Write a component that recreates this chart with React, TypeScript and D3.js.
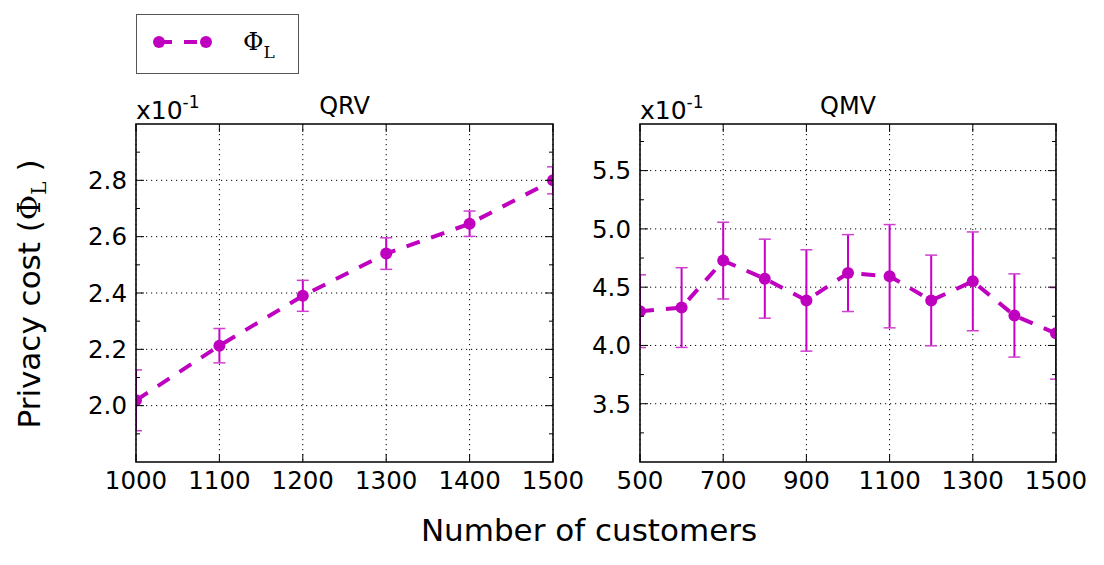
import React from "react";
import * as d3 from "d3";

// QRV panel: privacy cost (x10^-1) vs. number of customers
const qrvCustomers = [1000, 1100, 1200, 1300, 1400, 1500];
const qrvCost = [2.019, 2.213, 2.39, 2.54, 2.646, 2.8];
const qrvErr = [0.108, 0.061, 0.055, 0.056, 0.045, 0.048];
const qrvXTicks = [1000, 1100, 1200, 1300, 1400, 1500];
const qrvYTicks = [2.0, 2.2, 2.4, 2.6, 2.8];
const qrvYMinor = [1.9, 2.1, 2.3, 2.5, 2.7, 2.9];

// QMV panel
const qmvCustomers = [500, 600, 700, 800, 900, 1000, 1100, 1200, 1300, 1400, 1500];
const qmvCost = [4.294, 4.325, 4.728, 4.573, 4.386, 4.621, 4.594, 4.386, 4.55, 4.257, 4.104];
const qmvErr = [0.312, 0.342, 0.329, 0.339, 0.435, 0.33, 0.443, 0.389, 0.424, 0.357, 0.393];
const qmvXTicks = [500, 700, 900, 1100, 1300, 1500];
const qmvYTicks = [3.5, 4.0, 4.5, 5.0, 5.5];
const qmvYMinor = [3.25, 3.75, 4.25, 4.75, 5.25, 5.75];

const MAGENTA = "#bf00bf";
const SANS = "'DejaVu Sans', sans-serif";
const SERIF = "'DejaVu Serif', serif";

type PanelProps = {
  id: string;
  title: string;
  left: number;
  right: number;
  top: number;
  bottom: number;
  xDomain: [number, number];
  yDomain: [number, number];
  xs: number[];
  ys: number[];
  errs: number[];
  xTicks: number[];
  yTicks: number[];
  yMinor: number[];
};

function Panel(p: PanelProps) {
  const x = d3.scaleLinear().domain(p.xDomain).range([p.left, p.right]);
  const y = d3.scaleLinear().domain(p.yDomain).range([p.bottom, p.top]);
  const pts = p.xs.map((v, i) => [v, p.ys[i]] as [number, number]);
  const line = d3
    .line<[number, number]>()
    .x((d) => x(d[0]))
    .y((d) => y(d[1]));
  const clipId = `clip-${p.id}`;
  const major = 8;
  const minor = 4;
  return (
    <g>
      <defs>
        <clipPath id={clipId}>
          <rect x={p.left} y={p.top} width={p.right - p.left} height={p.bottom - p.top} />
        </clipPath>
      </defs>
      {/* dotted grid */}
      <g stroke="#000" strokeWidth={1} strokeDasharray="1.2,3.8">
        {p.xTicks.map((t) => (
          <line key={`gx${t}`} x1={x(t)} x2={x(t)} y1={p.top} y2={p.bottom} />
        ))}
        {p.yTicks.map((t) => (
          <line key={`gy${t}`} x1={p.left} x2={p.right} y1={y(t)} y2={y(t)} />
        ))}
      </g>
      <g clipPath={`url(#${clipId})`}>
        <path
          d={line(pts) || ""}
          fill="none"
          stroke={MAGENTA}
          strokeWidth={4}
          strokeDasharray="14,12"
        />
        <g stroke="#c800c8" strokeWidth={2}>
          {pts.map((d, i) => {
            const cx = x(d[0]);
            const yt = y(d[1] + p.errs[i]);
            const yb = y(d[1] - p.errs[i]);
            return (
              <g key={`e${i}`}>
                <line x1={cx} x2={cx} y1={yt} y2={yb} />
                <line x1={cx - 6} x2={cx + 6} y1={yt} y2={yt} strokeWidth={1.5} stroke="#d040d0" />
                <line x1={cx - 6} x2={cx + 6} y1={yb} y2={yb} strokeWidth={1.5} stroke="#d040d0" />
              </g>
            );
          })}
        </g>
        {pts.map((d, i) => (
          <circle key={`m${i}`} cx={x(d[0])} cy={y(d[1])} r={6} fill={MAGENTA} />
        ))}
      </g>
      {/* ticks on all four sides, pointing inward */}
      <g stroke="#000" strokeWidth={1}>
        {p.xTicks.map((t) => (
          <g key={`tx${t}`}>
            <line x1={x(t)} x2={x(t)} y1={p.bottom} y2={p.bottom - major} />
            <line x1={x(t)} x2={x(t)} y1={p.top} y2={p.top + major} />
          </g>
        ))}
        {p.yTicks.map((t) => (
          <g key={`ty${t}`}>
            <line x1={p.left} x2={p.left + major} y1={y(t)} y2={y(t)} />
            <line x1={p.right} x2={p.right - major} y1={y(t)} y2={y(t)} />
          </g>
        ))}
        {p.yMinor.map((t) => (
          <g key={`tm${t}`}>
            <line x1={p.left} x2={p.left + minor} y1={y(t)} y2={y(t)} />
            <line x1={p.right} x2={p.right - minor} y1={y(t)} y2={y(t)} />
          </g>
        ))}
      </g>
      <rect
        x={p.left}
        y={p.top}
        width={p.right - p.left}
        height={p.bottom - p.top}
        fill="none"
        stroke="#000"
        strokeWidth={1.5}
      />
      {/* tick labels */}
      <g fontFamily={SANS} fill="#000">
        {p.xTicks.map((t) => (
          <text key={`lx${t}`} x={x(t)} y={p.bottom + 27} textAnchor="middle" fontSize={24.5}>
            {t}
          </text>
        ))}
        {p.yTicks.map((t) => (
          <text key={`ly${t}`} x={p.left - 9} y={y(t)} dy="0.36em" textAnchor="end" fontSize={24.5}>
            {t.toFixed(1)}
          </text>
        ))}
      </g>
      {/* offset label and title */}
      <text x={p.left} y={p.top - 5} fontFamily={SANS} fontSize={25} fill="#000">
        x10
        <tspan fontSize={17} dy={-11}>
          -1
        </tspan>
      </text>
      <text
        x={(p.left + p.right) / 2}
        y={p.top - 10}
        textAnchor="middle"
        fontFamily={SANS}
        fontSize={24}
        fill="#000"
      >
        {p.title}
      </text>
    </g>
  );
}

export default function App() {
  const top = 124;
  const bottom = 462;
  return (
    <svg
      width={1104}
      height={565}
      style={{ position: "absolute", left: 0, top: 0, background: "#fff" }}
    >
      <rect x={0} y={0} width={1104} height={565} fill="#fff" />
      {/* legend */}
      <g>
        <rect x={136.5} y={14.5} width={162} height={59} fill="#fff" stroke="#555" strokeWidth={1} />
        <line x1={159} x2={206} y1={42} y2={42} stroke={MAGENTA} strokeWidth={4} strokeDasharray="13,12" />
        <circle cx={159} cy={42} r={6} fill={MAGENTA} />
        <circle cx={206} cy={42} r={6} fill={MAGENTA} />
        <text x={243} y={50} fontFamily={SERIF} fontSize={25} fill="#000">
          Φ
          <tspan fontSize={17} dy={8}>
            L
          </tspan>
        </text>
      </g>
      <Panel
        id="qrv"
        title="QRV"
        left={136}
        right={553}
        top={top}
        bottom={bottom}
        xDomain={[1000, 1500]}
        yDomain={[1.8, 3.0]}
        xs={qrvCustomers}
        ys={qrvCost}
        errs={qrvErr}
        xTicks={qrvXTicks}
        yTicks={qrvYTicks}
        yMinor={qrvYMinor}
      />
      <Panel
        id="qmv"
        title="QMV"
        left={640}
        right={1056}
        top={top}
        bottom={bottom}
        xDomain={[500, 1500]}
        yDomain={[3.0, 5.9]}
        xs={qmvCustomers}
        ys={qmvCost}
        errs={qmvErr}
        xTicks={qmvXTicks}
        yTicks={qmvYTicks}
        yMinor={qmvYMinor}
      />
      {/* axis titles */}
      <text
        x={589}
        y={541}
        textAnchor="middle"
        fontFamily={SANS}
        fontSize={31}
        fill="#000"
      >
        Number of customers
      </text>
      <text
        transform="translate(40,294) rotate(-90)"
        textAnchor="middle"
        fontFamily={SANS}
        fontSize={31}
        fill="#000"
      >
        Privacy cost (
        <tspan fontFamily={SERIF}>Φ</tspan>
        <tspan fontFamily={SERIF} fontSize={20} dy={6}>
          L
        </tspan>
        <tspan dy={-6}> )</tspan>
      </text>
    </svg>
  );
}
